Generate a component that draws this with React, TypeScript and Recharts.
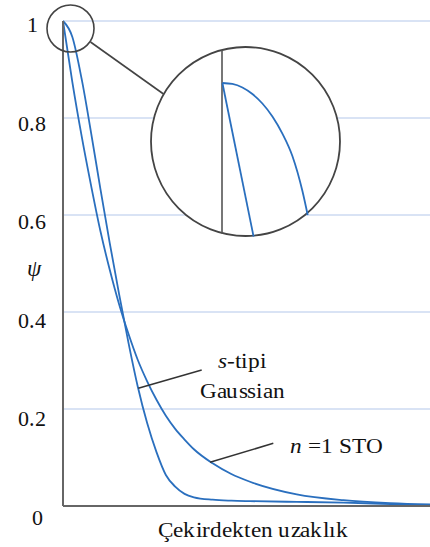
import React from "react";
import {
  LineChart,
  Line,
  XAxis,
  YAxis,
  CartesianGrid,
} from "recharts";

// main curves (r in grid units, psi)
const R = [0, 0.1, 0.2, 0.3, 0.4, 0.5, 0.6, 0.7, 0.8, 0.9, 1.0, 1.1, 1.2, 1.3, 1.4, 1.6, 1.8, 2.0, 2.5, 3.0, 3.5, 4.0];
const STO = [1.0, 0.874, 0.762, 0.661, 0.567, 0.487, 0.416, 0.355, 0.301, 0.257, 0.219, 0.186, 0.159, 0.137, 0.117, 0.088, 0.066, 0.05, 0.024, 0.012, 0.006, 0.003];
const GAUSS = [1.0, 0.967, 0.88, 0.77, 0.654, 0.542, 0.437, 0.337, 0.246, 0.171, 0.111, 0.064, 0.04, 0.025, 0.018, 0.013, 0.011, 0.01, 0.0085, 0.007, 0.004, 0.001];

// magnified inset near the origin
const INSET_R = [0, 0.0208, 0.0417, 0.0625, 0.065, 0.0833, 0.1042, 0.125, 0.1458, 0.1667, 0.1777];
const INSET_STO = [1.0, null, null, null, 0.904, null, null, null, null, null, null];
const INSET_GAUSS = [1.0, 0.9994, 0.9972, 0.9931, null, 0.9872, 0.9791, 0.9684, 0.9544, 0.9325, 0.9175];

const Y_TICKS = [0, 0.2, 0.4, 0.6, 0.8, 1];
const X_TICKS = [1, 2, 3, 4];

const FONT = "ChartSerif, Liberation Serif, serif";
const BLUE = "#2a6fbe";
const GRID = "#b3c7ea";
const AXIS = "#666";

const CSS =
  "@font-face { font-family: 'ChartSerif'; src: local('Liberation Serif'), local('LiberationSerif'); font-style: normal; }" +
  "@font-face { font-family: 'ChartSerif'; src: local('Liberation Serif Italic'), local('LiberationSerif-Italic'); font-style: italic; }" +
  "#root svg text, #root svg tspan { font-family: ChartSerif, 'Liberation Serif', serif !important; }";

const data = R.map((r, i) => ({ r, sto: STO[i], gauss: GAUSS[i] }));
const insetData = INSET_R.map((r, i) => ({ r, sto: INSET_STO[i], gauss: INSET_GAUSS[i] }));

const YTick = (props: any) => {
  const v = props.payload.value as number;
  const off = 4 + (1 - v) * 7.7 + 7;
  return (
    <text
      x={v === 0 ? 37.5 : 32}
      y={props.y + off}
      textAnchor="middle"
      fontFamily={FONT}
      fontSize={22}
      fill="#111"
    >
      {String(v)}
    </text>
  );
};

export default function App() {
  const txt = { fontFamily: FONT, fontSize: 21, fill: "#111" };
  return (
    <div
      style={{
        position: "absolute",
        left: 0,
        top: 0,
        width: 430,
        height: 547,
        overflow: "hidden",
        background: "#fff",
        fontFamily: FONT,
      }}
    >
      <style>{CSS}</style>
      <div style={{ position: "absolute", left: 0, top: 0 }}>
        <LineChart
          width={440}
          height={547}
          data={data}
          margin={{ top: 21, right: 3, left: 0, bottom: 0 }}
        >
          <CartesianGrid stroke={GRID} strokeWidth={1} />
          <XAxis
            dataKey="r"
            type="number"
            domain={[0, 4]}
            ticks={X_TICKS}
            tick={false}
            tickLine={false}
            height={41}
            axisLine={{ stroke: AXIS, strokeWidth: 2 }}
          />
          <YAxis
            type="number"
            domain={[0, 1]}
            ticks={Y_TICKS}
            width={63}
            tickLine={false}
            tick={<YTick />}
            axisLine={{ stroke: AXIS, strokeWidth: 2 }}
          />
          <Line
            dataKey="gauss"
            type="monotone"
            stroke={BLUE}
            strokeWidth={1.8}
            dot={false}
            isAnimationActive={false}
          />
          <Line
            dataKey="sto"
            type="monotone"
            stroke={BLUE}
            strokeWidth={1.8}
            dot={false}
            isAnimationActive={false}
          />
        </LineChart>
      </div>

      {/* annotations: zoom circles, leader lines, labels */}
      <svg
        width={430}
        height={547}
        fontFamily={FONT}
        style={{ position: "absolute", left: 0, top: 0 }}
      >
        <circle cx={70.5} cy={28.5} r={23.5} fill="none" stroke="#444" strokeWidth={1.6} />
        <line x1={90.5} y1={42} x2={163.5} y2={94} stroke="#444" strokeWidth={1.6} />
        <circle cx={245.5} cy={141.5} r={94.5} fill="#fff" stroke="#444" strokeWidth={1.8} />
        <line x1={222} y1={50} x2={222} y2={233.5} stroke="#555" strokeWidth={1.6} />

        <line x1={138.3} y1={388.3} x2={201.7} y2={370} stroke="#333" strokeWidth={1.5} />
        <line x1={210} y1={462.3} x2={273.3} y2={443.3} stroke="#333" strokeWidth={1.5} />

        <text x={218} y={368} {...txt} textLength={49} lengthAdjust="spacingAndGlyphs">
          <tspan fontStyle="italic">s</tspan>-tipi
        </text>
        <text x={200} y={398} {...txt} textLength={85} lengthAdjust="spacingAndGlyphs">
          Gaussian
        </text>
        <text x={290} y={452.5} {...txt} textLength={93} lengthAdjust="spacingAndGlyphs">
          <tspan fontStyle="italic">n</tspan> =1 STO
        </text>
        <text x={34} y={276} textAnchor="middle" fontFamily={FONT} fontSize={23} fontStyle="italic" fill="#111">
          ψ
        </text>
        <text x={158} y={537} {...txt} textLength={190} lengthAdjust="spacingAndGlyphs">
          Çekirdekten uzaklık
        </text>
      </svg>

      <div style={{ position: "absolute", left: 219.6, top: 75 }}>
        <LineChart
          width={120}
          height={176}
          data={insetData}
          margin={{ top: 0, right: 0, left: 0, bottom: 0 }}
        >
          <XAxis dataKey="r" type="number" domain={[-0.005, 0.245]} hide />
          <YAxis type="number" domain={[0.895, 1.005]} hide />
          <Line
            dataKey="sto"
            type="linear"
            connectNulls
            stroke={BLUE}
            strokeWidth={1.8}
            dot={false}
            isAnimationActive={false}
          />
          <Line
            dataKey="gauss"
            type="monotone"
            connectNulls
            stroke={BLUE}
            strokeWidth={1.8}
            dot={false}
            isAnimationActive={false}
          />
        </LineChart>
      </div>
    </div>
  );
}
